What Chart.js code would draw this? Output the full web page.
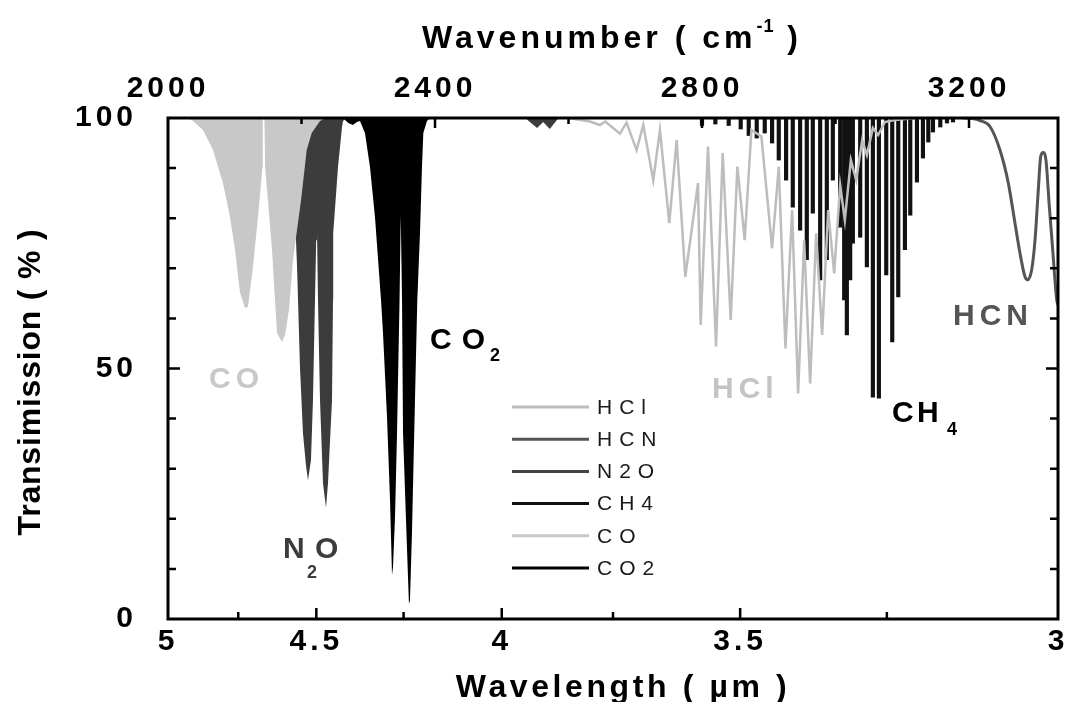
<!DOCTYPE html>
<html>
<head>
<meta charset="utf-8">
<script src="https://cdn.jsdelivr.net/npm/chart.js@4.4.0/dist/chart.umd.min.js"></script>
<style>
  html, body { margin: 0; padding: 0; background: #fff; }
</style>
</head>
<body>
<canvas id="chartCanvas" width="1066" height="702"></canvas>
<script>
// wavenumber (cm-1) / transmission (%)
const hclWavenumber = [2600, 2632, 2647, 2655, 2677, 2687, 2702, 2712, 2727, 2737, 2751, 2762, 2775, 2794, 2798,
  2809, 2821, 2831, 2843, 2853, 2864, 2874, 2889, 2905, 2915, 2925, 2935, 2944, 2953, 2962, 2971, 2980, 2989,
  2998, 3007, 3014, 3023, 3031, 3040, 3047, 3056, 3064, 3074, 3089, 3120];
const hclTrans = [100, 99.3, 98.6, 99.3, 96.9, 99.1, 93.6, 98.6, 87.6, 97.6, 79.0, 95.6, 68.3, 87.0, 58.7,
  94.3, 54.4, 93.0, 59.7, 90.3, 75.6, 97.6, 96.3, 74.0, 90.3, 54.0, 81.6, 45.0, 75.6, 47.0, 77.0, 56.7, 81.6,
  69.0, 86.6, 79.6, 91.6, 87.6, 95.6, 92.6, 98.0, 96.6, 99.2, 99.6, 100];

const hcnWavenumber = [3190, 3205, 3216.5, 3231.4, 3246.4, 3258.9, 3268.9, 3276.4, 3283.9, 3287.9, 3293.9,
  3298.9, 3303.8, 3307.4, 3311.3, 3315.3, 3320.3, 3325.4, 3331.4, 3334];
const hcnTrans = [100, 99.9, 99.5, 98.3, 93.6, 87.0, 79.0, 73.0, 68.3, 67.7, 69.7,
  75.6, 85.6, 92.3, 93.1, 91.6, 82.4, 73.7, 63.7, 62.5];

const n2oWavenumber = [2182.8, 2188.8, 2193.3, 2194.8, 2197.7, 2202.2, 2206.7, 2209.7, 2214.2, 2217.2, 2220.2,
  2222.0, 2223.2, 2224.7, 2227.7, 2232.2, 2236.7, 2239.7, 2245.7, 2247.2, 2247.5, 2254.7, 2260.7, 2262.2, 2266.7,
  2535, 2553, 2562, 2572, 2585];
const n2oTrans = [100, 85.6, 70.3, 63.7, 50.3, 37.1, 30.7, 27.7, 31.7, 43.7, 63.7,
  75.6, 77.6, 63.7, 43.7, 27.1, 22.2, 27.1, 43.7, 63.7, 77.0, 90.2, 98.2, 99.4, 100,
  100, 98.0, 99.2, 97.8, 100];

// CH4 lines: centre and depth of each line
const ch4Centers = [2800, 2820, 2840, 2858, 2870, 2882, 2894, 2905, 2915, 2926, 2936, 2947, 2957, 2966, 2977,
  2987, 2996, 3007, 3013, 3017, 3022, 3026, 3037, 3047, 3056, 3065, 3076, 3085, 3094, 3104, 3112, 3122, 3131,
  3139, 3146, 3157, 3167, 3176];
const ch4Minima = [98.5, 98.8, 98.5, 97.8, 96.5, 96.0, 97.0, 95.0, 91.6, 87.6, 82.2, 77.6, 71.7, 81.0, 67.7,
  71.7, 87.6, 78.2, 63.7, 56.7, 67.7, 75.0, 76.2, 70.3, 44.3, 44.1, 68.7, 55.3, 64.3, 73.7, 80.6, 87.2, 92.0,
  95.2, 97.2, 98.2, 99.0, 99.2];

const coWavenumber = [2030, 2037.5, 2052.4, 2067.4, 2082.4, 2092.9, 2100.4, 2107.9, 2115.4, 2119.8, 2127.3,
  2134.8, 2141.5, 2142.0, 2144.5, 2145.5, 2155.8, 2163.3, 2170.8, 2175.3, 2181.3, 2187.3, 2199.3, 2207.8,
  2215.3, 2227.7, 2236.7];
const coTrans = [100, 99.4, 97.6, 93.6, 87.0, 80.2, 73.7, 65.1, 62.1, 62.3, 70.3,
  80.2, 90.2, 100, 100, 90.2, 73.7, 57.1, 55.3, 56.7, 61.7, 71.7, 83.6, 93.6,
  97.0, 99.4, 100];

const co2Wavenumber = [2262, 2270, 2277, 2283, 2287.6, 2295.1, 2302.6, 2310.1, 2319.1, 2322.1, 2328.1, 2332.6,
  2335.6, 2337.1, 2340.1, 2343.1, 2346.9, 2348.7, 2350.6, 2352.1, 2358.1, 2361.0, 2362.5, 2365.5, 2370.0,
  2373.5, 2377.5, 2380.5, 2382.5, 2388.0, 2392.5];
const co2Trans = [100, 99.0, 98.6, 99.2, 99.4, 97.0, 90.2, 80.2, 63.7, 57.1, 40.3, 23.8,
  8.8, 10.4, 20.4, 37.1, 63.7, 80.6, 63.7, 37.1, 13.8, 3.0, 3.8, 17.2, 43.7,
  63.7, 77.0, 90.2, 97.0, 99.4, 100];

// axes
const wavelengthTicks = [5, 4.5, 4, 3.5, 3];
const wavelengthMinor = [4.75, 4.5, 4.25, 4, 3.75, 3.5, 3.25];
const wavenumberTicks = [2000, 2400, 2800, 3200];
const wavenumberMinor = [2200, 2400, 2600, 2800, 3000, 3200];
const transTicks = [0, 50, 100];
const transMinor = [10, 20, 30, 40, 50, 60, 70, 80, 90];

const FONT = '"Liberation Sans", Arial, sans-serif';

function pts(xs, ys) {
  return xs.map((x, i) => ({ x: x, y: ys[i] }));
}

function txt(ctx, s, x, y, size, color, spacing, align) {
  ctx.font = 'bold ' + size + 'px ' + FONT;
  ctx.letterSpacing = spacing + 'px';
  ctx.fillStyle = color;
  ctx.textAlign = align || 'left';
  ctx.textBaseline = 'alphabetic';
  ctx.fillText(s, x, y);
  return ctx.measureText(s).width;
}

// keep the plot box where the reference has it
function noPad(s) {
  s.paddingLeft = 0;
  s.paddingRight = 0;
  s.paddingTop = 0;
  s.paddingBottom = 0;
}

const decorations = {
  id: 'decorations',
  beforeDraw(chart) {
    chart.ctx.letterSpacing = '4px';
  },
  afterDatasetsDraw(chart) {
    const { ctx, chartArea: a, scales } = chart;
    ctx.save();
    ctx.strokeStyle = '#000';
    ctx.lineWidth = 2.5;
    ctx.beginPath();
    transMinor.forEach(v => {
      const py = scales.y.getPixelForValue(v);
      const len = v === 50 ? 12 : 8;
      ctx.moveTo(a.left, py); ctx.lineTo(a.left + len, py);
      ctx.moveTo(a.right, py); ctx.lineTo(a.right - len, py);
    });
    wavelengthMinor.forEach(l => {
      const px = scales.x.getPixelForValue(10000 / l);
      const len = (l * 2) % 1 === 0 ? 11 : 7;
      ctx.moveTo(px, a.bottom); ctx.lineTo(px, a.bottom - len);
    });
    wavenumberMinor.forEach(w => {
      const px = scales.x2.getPixelForValue(w);
      const len = w % 400 === 0 ? 10 : 6;
      ctx.moveTo(px, a.top); ctx.lineTo(px, a.top + len);
    });
    ctx.stroke();
    ctx.lineWidth = 3;
    ctx.strokeRect(a.left, a.top, a.right - a.left, a.bottom - a.top);
    ctx.restore();
  },
  afterDraw(chart) {
    const ctx = chart.ctx;
    ctx.save();

    // legend
    chart.data.datasets.forEach((ds, i) => {
      const y = 407 + i * 32.2;
      ctx.strokeStyle = ds.legendColor;
      ctx.lineWidth = 3;
      ctx.beginPath();
      ctx.moveTo(512, y); ctx.lineTo(589, y);
      ctx.stroke();
      ctx.font = '21px ' + FONT;
      ctx.letterSpacing = '7px';
      ctx.fillStyle = '#1a1a1a';
      ctx.textAlign = 'left';
      ctx.textBaseline = 'middle';
      ctx.fillText(ds.label, 597, y + 1);
    });

    // band labels
    txt(ctx, 'CO', 209, 388, 30, '#c8c8c8', 5);
    txt(ctx, 'N', 283, 558, 30, '#3c3c3c', 0);
    txt(ctx, '2', 307, 578, 18, '#3c3c3c', 0);
    txt(ctx, 'O', 315, 558, 30, '#3c3c3c', 0);
    txt(ctx, 'CO', 430, 349, 30, '#000', 10);
    txt(ctx, '2', 490, 361, 18, '#000', 0);
    txt(ctx, 'HCl', 712, 398, 30, '#c4c4c4', 5);
    txt(ctx, 'C', 892, 422, 30, '#000', 0);
    txt(ctx, 'H', 917, 422, 30, '#000', 0);
    txt(ctx, '4', 947, 435, 18, '#000', 0);
    txt(ctx, 'HCN', 953, 325, 30, '#555', 5);

    // axis titles
    ctx.font = 'bold 32px ' + FONT;
    ctx.letterSpacing = '4px';
    const w1 = ctx.measureText('Wavenumber ( cm').width;
    ctx.font = 'bold 18px ' + FONT;
    ctx.letterSpacing = '1px';
    const w2 = ctx.measureText('-1').width;
    ctx.font = 'bold 32px ' + FONT;
    ctx.letterSpacing = '4px';
    const w3 = ctx.measureText(' )').width;
    const x0 = 612 - (w1 + w2 + w3) / 2;
    txt(ctx, 'Wavenumber ( cm', x0, 48, 32, '#000', 4);
    txt(ctx, '-1', x0 + w1, 32, 18, '#000', 1);
    txt(ctx, ' )', x0 + w1 + w2, 48, 32, '#000', 4);

    txt(ctx, 'Wavelength ( \u00b5m )', 623, 697, 32, '#000', 3.6, 'center');

    ctx.translate(40, 382);
    ctx.rotate(-Math.PI / 2);
    txt(ctx, 'Transimission ( % )', 0, 0, 32, '#000', 0.8, 'center');
    ctx.restore();
  }
};

const tickFont = { family: FONT, size: 30, weight: 'bold' };
const ctx = document.getElementById('chartCanvas').getContext('2d');

const config = {
  type: 'line',
  data: {
    datasets: [
      { label: 'HCl', data: pts(hclWavenumber, hclTrans), borderColor: '#bdbdbd', legendColor: '#bdbdbd',
        borderWidth: 2.5, pointRadius: 0, fill: false, order: 1 },
      { label: 'HCN', data: pts(hcnWavenumber, hcnTrans), borderColor: '#555555', legendColor: '#555555',
        borderWidth: 3, pointRadius: 0, fill: false, cubicInterpolationMode: 'monotone', order: 2 },
      { label: 'N2O', data: pts(n2oWavenumber, n2oTrans), borderColor: 'rgba(0,0,0,0)', backgroundColor: '#3c3c3c',
        legendColor: '#444444', borderWidth: 1, pointRadius: 0, fill: 'end', order: 4 },
      { type: 'bar', label: 'CH4', data: ch4Centers.map((c, i) => ({ x: c, y: [ch4Minima[i], 100] })),
        backgroundColor: '#111111', legendColor: '#111111', barThickness: 3.5, grouped: false, order: 5 },
      { label: 'CO', data: pts(coWavenumber, coTrans), borderColor: 'rgba(0,0,0,0)', backgroundColor: '#c8c8c8',
        legendColor: '#c8c8c8', borderWidth: 1, pointRadius: 0, fill: 'end', order: 3 },
      { label: 'CO2', data: pts(co2Wavenumber, co2Trans), borderColor: 'rgba(0,0,0,0)', backgroundColor: '#000000',
        legendColor: '#000000', borderWidth: 1, pointRadius: 0, fill: 'end', order: 6 }
    ]
  },
  options: {
    responsive: false,
    animation: false,
    layout: { padding: { left: 0, right: 8, top: 0, bottom: 0 } },
    plugins: { legend: { display: false }, tooltip: { enabled: false } },
    scales: {
      x: {
        type: 'linear', position: 'bottom', min: 2000, max: 10000 / 3, offset: false,
        grid: { display: false, drawTicks: false }, border: { display: false },
        afterBuildTicks: s => { s.ticks = wavelengthTicks.map(l => ({ value: 10000 / l })); },
        afterFit: s => { s.height = 83; noPad(s); },
        ticks: { autoSkip: false, maxRotation: 0, padding: 5, color: '#000', font: tickFont,
          callback: v => String(+(10000 / v).toFixed(2)) }
      },
      x2: {
        type: 'linear', position: 'top', min: 2000, max: 10000 / 3, offset: false,
        grid: { display: false, drawTicks: false }, border: { display: false },
        afterBuildTicks: s => { s.ticks = wavenumberTicks.map(w => ({ value: w })); },
        afterFit: s => { s.height = 118; noPad(s); },
        ticks: { autoSkip: false, maxRotation: 0, padding: 11, color: '#000', font: tickFont,
          callback: v => String(v) }
      },
      y: {
        min: 0, max: 100,
        grid: { display: false, drawTicks: false }, border: { display: false },
        afterBuildTicks: s => { s.ticks = transTicks.map(v => ({ value: v })); },
        afterFit: s => { s.width = 168; noPad(s); },
        ticks: { padding: 31, color: '#000', font: tickFont, callback: v => String(v) }
      }
    }
  },
  plugins: [decorations]
};

const myChart = new Chart(ctx, config);
</script>
</body>
</html>
